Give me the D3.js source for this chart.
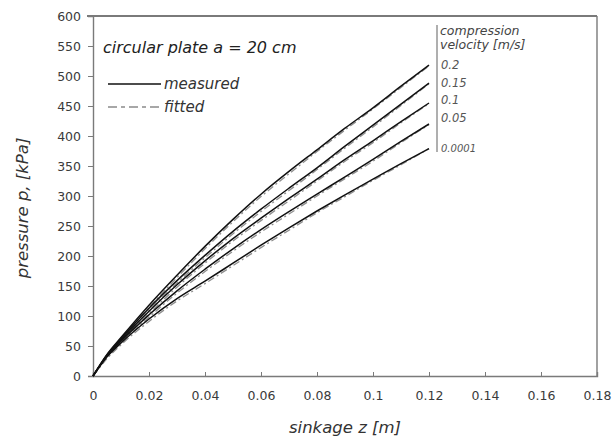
<!DOCTYPE html>
<html>
<head>
<meta charset="utf-8">
<script src="https://cdn.jsdelivr.net/npm/d3@7"></script>
<style>
  html, body { margin: 0; padding: 0; background: #fff; }
  svg { display: block; font-family: "DejaVu Sans", Verdana, sans-serif; }
</style>
</head>
<body>
<svg id="chart" width="613" height="441"></svg>
<script>
// Sinkage steps [m] at which pressure was sampled
const sinkage = [0, 0.005, 0.01, 0.02, 0.03, 0.04, 0.05, 0.06, 0.07, 0.08, 0.09, 0.1, 0.11, 0.12];

// Compression velocities [m/s]
const velocities = ["0.2", "0.15", "0.1", "0.05", "0.0001"];

// Measured pressure [kPa] per velocity
const measured02    = [0, 36, 64, 118, 168, 216, 261, 303, 341, 377, 413, 447, 483, 518];
const measured015   = [0, 35, 62, 113, 159, 201, 241, 278, 313, 347, 383, 418, 453, 488];
const measured01    = [0, 34, 60, 108, 152, 192, 229, 263, 296, 328, 361, 392, 424, 455];
const measured005   = [0, 33, 58, 102, 142, 178, 212, 244, 274, 303, 332, 361, 391, 420];
const measured00001 = [0, 32, 55, 95, 129, 158, 188, 218, 247, 275, 302, 328, 354, 379];

// Fitted pressure [kPa] per velocity
const fitted02    = [0, 33, 61, 114, 164, 212, 257, 299, 337, 374, 410, 445, 481, 517];
const fitted015   = [0, 32, 59, 109, 155, 197, 237, 274, 309, 344, 380, 415, 451, 487];
const fitted01    = [0, 31, 57, 104, 148, 188, 225, 259, 292, 325, 358, 389, 422, 454];
const fitted005   = [0, 30, 55, 98, 138, 174, 208, 240, 270, 300, 329, 358, 389, 419];
const fitted00001 = [0, 29, 52, 91, 125, 154, 184, 214, 243, 272, 299, 326, 352, 379];

const measuredSeries = [measured02, measured015, measured01, measured005, measured00001];
const fittedSeries = [fitted02, fitted015, fitted01, fitted005, fitted00001];

// Axis ticks
const xTicks = [0, 0.02, 0.04, 0.06, 0.08, 0.1, 0.12, 0.14, 0.16, 0.18];
const yTicks = [0, 50, 100, 150, 200, 250, 300, 350, 400, 450, 500, 550, 600];

const W = 613, H = 441;
const margin = { top: 16, right: 16, bottom: 65, left: 93 };
const svg = d3.select("#chart");

const x = d3.scaleLinear().domain([0, 0.18]).range([margin.left, W - margin.right]);
const y = d3.scaleLinear().domain([0, 600]).range([H - margin.bottom, margin.top]);

const frameColor = "#7a7a7a";
const textColor = "#3a3a3a";
const font = "'DejaVu Sans', Verdana, sans-serif";

// Plot frame (top and right sides)
svg.append("line")
  .attr("x1", margin.left - 6).attr("x2", W - margin.right)
  .attr("y1", y(600)).attr("y2", y(600))
  .attr("stroke", frameColor).attr("stroke-width", 1.8);
svg.append("line")
  .attr("x1", W - margin.right).attr("x2", W - margin.right)
  .attr("y1", y(600)).attr("y2", y(0))
  .attr("stroke", frameColor).attr("stroke-width", 1.4);

// Axes
const xAxis = svg.append("g")
  .attr("transform", `translate(0,${y(0)})`)
  .call(d3.axisBottom(x).tickValues(xTicks).tickSize(-4).tickPadding(15)
    .tickFormat(d => d3.format("~g")(d)));
const yAxis = svg.append("g")
  .attr("transform", `translate(${margin.left},0)`)
  .call(d3.axisLeft(y).tickValues(yTicks).tickSize(5).tickPadding(7));

[xAxis, yAxis].forEach(g => {
  g.select(".domain").attr("stroke", frameColor).attr("stroke-width", 1.4);
  g.selectAll(".tick line").attr("stroke", frameColor).attr("stroke-width", 1);
  g.selectAll(".tick text").attr("fill", textColor)
    .style("font-size", "12.5px").style("font-family", font);
});

// Curves
const line = d3.line()
  .x((d, i) => x(sinkage[i]))
  .y(d => y(d))
  .curve(d3.curveMonotoneX);

const curves = svg.append("g");
fittedSeries.forEach(s => {
  curves.append("path").datum(s)
    .attr("d", line)
    .attr("fill", "none")
    .attr("stroke", "#8f8f8f")
    .attr("stroke-width", 1.3)
    .attr("stroke-dasharray", "7,3,2,3");
});
measuredSeries.forEach(s => {
  curves.append("path").datum(s)
    .attr("d", line)
    .attr("fill", "none")
    .attr("stroke", "#111")
    .attr("stroke-width", 1.5);
});

// Title and line-style legend
svg.append("text")
  .attr("x", 103).attr("y", 53)
  .attr("fill", "#222")
  .style("font-size", "16px").style("font-style", "italic")
  .text("circular plate a = 20 cm");

const legend = svg.append("g");
legend.append("line")
  .attr("x1", 108).attr("x2", 161).attr("y1", 84).attr("y2", 84)
  .attr("stroke", "#111").attr("stroke-width", 1.5);
legend.append("text")
  .attr("x", 164).attr("y", 89)
  .attr("fill", "#333")
  .style("font-size", "15px").style("font-style", "italic")
  .text("measured");
legend.append("line")
  .attr("x1", 108).attr("x2", 161).attr("y1", 107).attr("y2", 107)
  .attr("stroke", "#8a8a8a").attr("stroke-width", 1.3)
  .attr("stroke-dasharray", "9,4,4,4");
legend.append("text")
  .attr("x", 164).attr("y", 112)
  .attr("fill", "#333")
  .style("font-size", "15px").style("font-style", "italic")
  .text("fitted");

// Velocity legend at the curve ends
const vLegendX = 437;
svg.append("line")
  .attr("x1", vLegendX).attr("x2", vLegendX).attr("y1", 25).attr("y2", 152)
  .attr("stroke", frameColor).attr("stroke-width", 1.2);
svg.append("text")
  .attr("x", vLegendX + 3).attr("y", 35)
  .attr("fill", "#444")
  .style("font-size", "12.5px").style("font-style", "italic")
  .text("compression");
svg.append("text")
  .attr("x", vLegendX + 3).attr("y", 49)
  .attr("fill", "#444")
  .style("font-size", "12.5px").style("font-style", "italic")
  .text("velocity [m/s]");

const labelY = [69, 87, 104, 122, 152];
velocities.forEach((v, i) => {
  svg.append("text")
    .attr("x", vLegendX + 4).attr("y", labelY[i])
    .attr("fill", "#555")
    .style("font-size", i === 4 ? "10px" : "11.5px").style("font-style", "italic")
    .text(v);
});

// Axis titles
svg.append("text")
  .attr("x", 345).attr("y", 433)
  .attr("text-anchor", "middle")
  .attr("fill", "#333")
  .style("font-size", "16.5px").style("font-style", "italic")
  .text("sinkage z [m]");
svg.append("text")
  .attr("transform", `translate(28,208) rotate(-90)`)
  .attr("text-anchor", "middle")
  .attr("fill", "#333")
  .style("font-size", "16.5px").style("font-style", "italic")
  .text("pressure p, [kPa]");
</script>
</body>
</html>
